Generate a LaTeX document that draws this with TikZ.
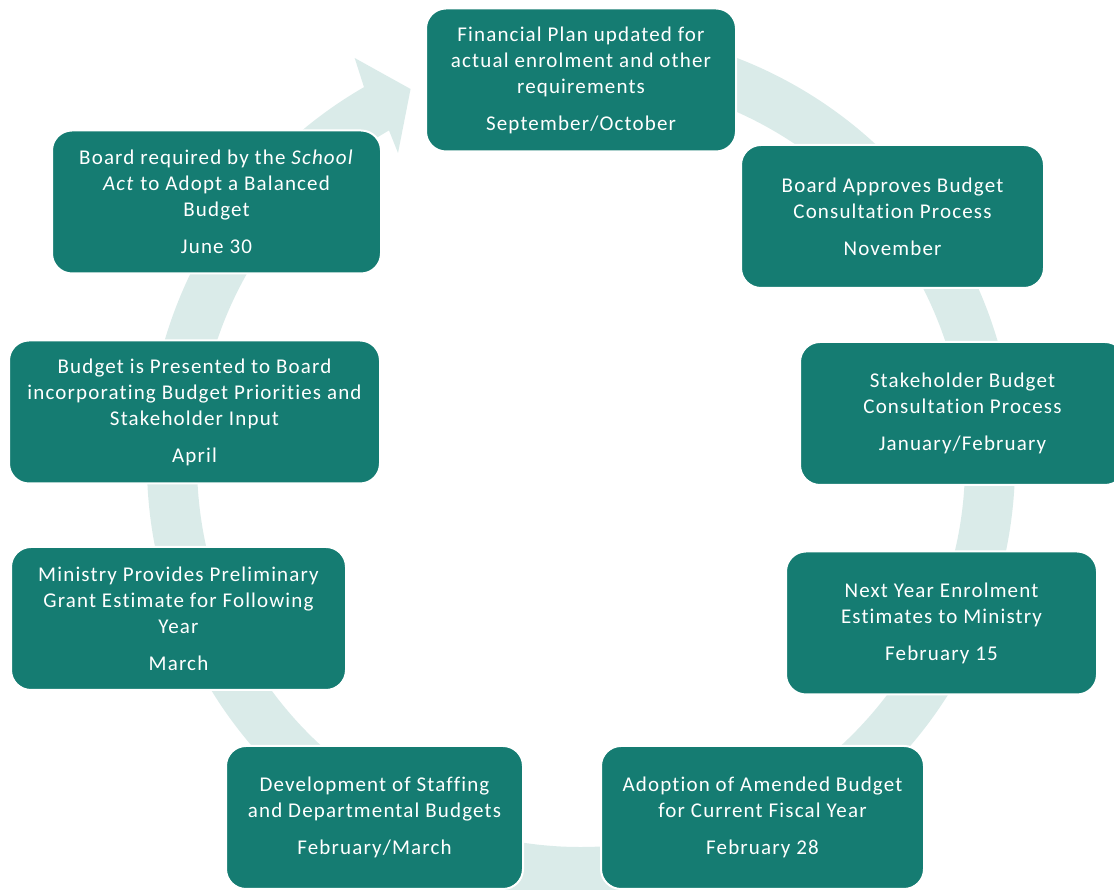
\documentclass[tikz,border=0pt]{standalone}
\usepackage{fontspec}
\setmainfont{Carlito}[LetterSpace=5.5,Ligatures=NoCommon]
\definecolor{teal1}{RGB}{21,124,114}
\definecolor{ringc}{RGB}{218,235,233}
\begin{document}
\begin{tikzpicture}[x=1pt,y=1pt,
  stage/.style={draw=white, line width=2pt, fill=teal1, rounded corners=20pt,
    text=white, align=center, inner sep=0pt, minimum height=143pt,
    font=\fontsize{21}{26}\selectfont}]
\useasboundingbox (0,0) rectangle (1114,890);
% ring with arrowhead
\begin{scope}[shift={(581,427)}]
\fill[ringc] (120:434) arc[start angle=120, end angle=455, radius=434]
  -- (455:384) arc[start angle=455, end angle=120, radius=384]
  -- (120.55:360) -- (114.5:411) -- (119.2:464) -- cycle;
\end{scope}
\node[stage, minimum width=310pt] (n1) at (581,810)
  {Financial Plan updated for\\actual enrolment and other\\requirements\\[11pt]September/October};
\node[stage, minimum width=303pt] (n2) at (892.5,673.5)
  {Board Approves Budget\\Consultation Process\\[11pt]November};
\node[stage, minimum width=325pt] (n3) at (962.5,476.5)
  {Stakeholder Budget\\Consultation Process\\[11pt]January/February};
\node[stage, minimum width=311pt] (n4) at (941.5,267)
  {Next Year Enrolment\\Estimates to Ministry\\[11pt]February 15};
\node[stage, minimum width=323pt] (n5) at (762.5,72.5)
  {Adoption of Amended Budget\\for Current Fiscal Year\\[11pt]February 28};
\node[stage, minimum width=297pt] (n6) at (374.5,72.5)
  {Development of Staffing\\and Departmental Budgets\\[11pt]February/March};
\node[stage, minimum width=335pt] (n7) at (178.5,271.5)
  {Ministry Provides Preliminary\\Grant Estimate for Following\\Year\\[11pt]March};
\node[stage, minimum width=371pt] (n8) at (194.5,478)
  {Budget is Presented to Board\\incorporating Budget Priorities and\\Stakeholder Input\\[11pt]April};
\node[stage, minimum width=329pt] (n9) at (216.5,688)
  {Board required by the \textit{School}\\\textit{Act} to Adopt a Balanced\\Budget\\[11pt]June 30};
\end{tikzpicture}
\end{document}
